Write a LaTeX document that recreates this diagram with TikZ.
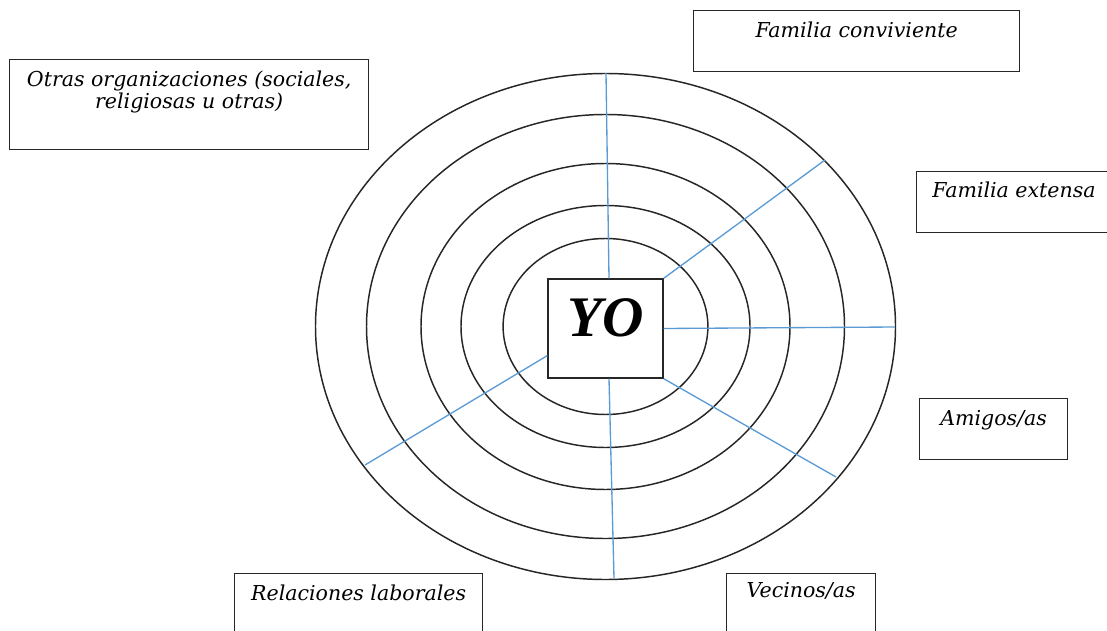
\documentclass[tikz,border=0pt]{standalone}
\usepackage{fontspec}
\setmainfont{DejaVu Serif}
\newfontfamily\yofont{Liberation Serif}
\usetikzlibrary{calc, positioning}
\definecolor{spokeblue}{HTML}{5B9BD5}
\definecolor{inkgray}{HTML}{262626}

\begin{document}
\begin{tikzpicture}[x=0.75pt,y=-0.75pt]
  \tikzset{ring/.style={draw=inkgray,line width=1.1pt},
    spoke/.style={draw=spokeblue,line width=1pt},
    group box/.style={draw=inkgray,line width=1pt,anchor=north west,inner sep=0,
      font=\fontsize{15.4}{13.7}\selectfont\itshape,text height=20pt,text depth=25.75pt}}
  \useasboundingbox (0,0) rectangle (1107,631);
  \foreach \rx/\ry in {290/253,239/212,184.5/163,144.5/121,102.4/88}
    \draw[ring] (605.5,326.5) ellipse [x radius=\rx, y radius=\ry];
  \node[draw=inkgray,line width=1pt,fill=white,minimum width=86.25pt,minimum height=74.25pt,
    inner sep=0,text depth=15.75pt,font=\yofont\fontsize{43}{43}\selectfont\bfseries\itshape]
    (yo) at (605.5,328.5) {YO};
  \node[group box,minimum width=269.25pt,text height=20.5pt,text depth=47pt] (otras) at (9,59)
    {\begin{tabular}[t]{@{}c@{}}Otras organizaciones (sociales,\\religiosas u otras)\end{tabular}};
  \node[group box,minimum width=244.5pt,text height=20.5pt,text depth=25.25pt] (famconv) at (693,10) {Familia conviviente};
  \node[group box,minimum width=146pt,text height=19.3pt,text depth=26.45pt] (famext) at (916,171) {Familia extensa};
  \node[group box,minimum width=111pt] (amigos) at (919,398) {Amigos/as};
  \node[group box,minimum width=186pt,text height=20.25pt] (laboral) at (234,573) {Relaciones laborales};
  \node[group box,minimum width=111.75pt,text height=18pt] (vecinos) at (726,573) {Vecinos/as};
  \coordinate (sfam) at (606,73);
  \coordinate (sext) at (825,160);
  \coordinate (sami) at (895,327);
  \coordinate (svec) at (836,477);
  \coordinate (slab) at (614,578);
  \coordinate (sotr) at (365,465);
  \draw[spoke] ($(yo.north)+(3.5,0)$) -- (sfam);
  \draw[spoke] (yo.north east) -- (sext);
  \draw[spoke] (yo.east) -- (sami);
  \draw[spoke] (yo.south east) -- (svec);
  \draw[spoke] ($(yo.south)+(3.5,0)$) -- (slab);
  \draw[spoke] ($(yo.south west)!.23!(yo.north west)$) -- (sotr);
\end{tikzpicture}
\end{document}
